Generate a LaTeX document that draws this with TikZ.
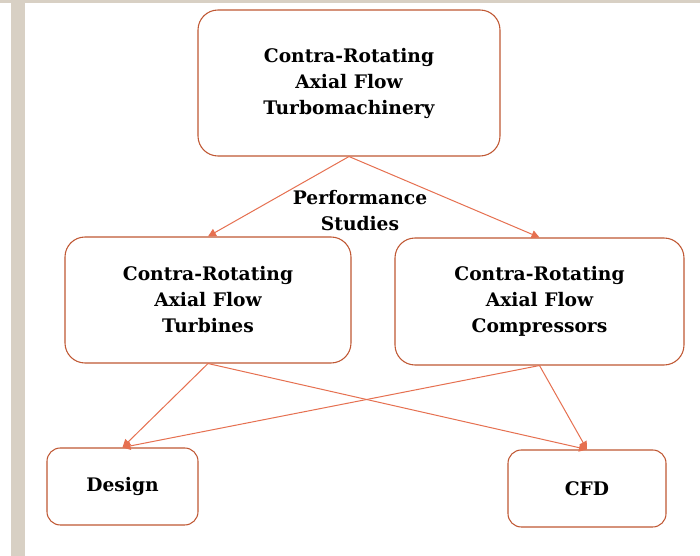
\documentclass[tikz,border=0pt]{standalone}
\usepackage{fontspec}
\setmainfont{DejaVu Serif}
\usepackage{tikz}
\usetikzlibrary{arrows.meta, positioning}

\begin{document}
\begin{tikzpicture}[
    x=0.75pt, y=0.75pt,
    every node/.style={font=\bfseries\fontsize{14}{19.5}\selectfont, align=center, text=black},
    topicbox/.style={
      rectangle, rounded corners=15pt,
      draw=boxEdge, fill=white, line width=0.8pt
    },
    arr/.style={-{Triangle[length=6pt, width=6pt]}, draw=arrLine, line width=0.75pt}
  ]
    \definecolor{boxEdge}{RGB}{192,88,52}
    \definecolor{arrLine}{RGB}{230,112,80}
    \definecolor{stripBeige}{RGB}{216,208,196}

    % page frame
    \useasboundingbox (0,0) rectangle (700,556);
    \fill[white] (0,0) rectangle (700,556);
    \fill[stripBeige] (0,553) rectangle (700,556);
    \fill[stripBeige] (11,0) rectangle (25,556);

    % boxes
    \node[topicbox, minimum width=226.5pt, minimum height=109.5pt] (turbo) at (349,473)
      {Contra-Rotating\\Axial Flow\\Turbomachinery};
    \node[topicbox, minimum width=214.5pt, minimum height=94.5pt] (turb) at (208,256)
      {Contra-Rotating\\Axial Flow\\Turbines};
    \node[topicbox, minimum width=216.75pt, minimum height=95.25pt] (comp) at (539.5,254.5)
      {Contra-Rotating\\Axial Flow\\Compressors};
    \node[topicbox, rounded corners=10pt, minimum width=113.25pt, minimum height=57.75pt] (design) at (122.5,69.5)
      {Design};
    \node[topicbox, rounded corners=10pt, minimum width=118.5pt, minimum height=57.75pt] (cfd) at (587,67.5)
      {CFD};

    \node (perf) at (360,345) {Performance\\Studies};

    % connectors
    \draw[arr] (turbo.south) -- (turb.north);
    \draw[arr] (turbo.south) -- (comp.north);
    \draw[arr] (turb.south) -- (design.north);
    \draw[arr] (turb.south) -- (cfd.north);
    \draw[arr] (comp.south) -- (design.north);
    \draw[arr] (comp.south) -- (cfd.north);
\end{tikzpicture}
\end{document}
